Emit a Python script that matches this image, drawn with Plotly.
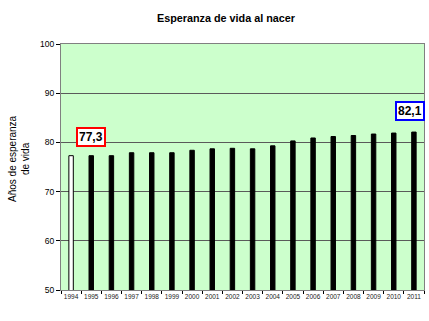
import plotly.graph_objects as go

years = ["1994","1995","1996","1997","1998","1999","2000","2001","2002","2003",
         "2004","2005","2006","2007","2008","2009","2010","2011"]
values = [77.3,77.3,77.3,77.9,77.9,77.9,78.4,78.7,78.8,78.7,
          79.3,80.3,80.9,81.2,81.4,81.7,81.9,82.1]
fill_colors = ["white"] + ["black"] * (len(years) - 1)
y_ticks = [50, 60, 70, 80, 90, 100]

idx = list(range(len(years)))
boundaries = [i - 0.5 for i in range(len(years) + 1)]

fig = go.Figure()
fig.add_trace(go.Bar(
    x=idx, y=values,
    marker=dict(color=fill_colors, line=dict(color="black", width=1)),
    width=0.22,
))

fig.update_layout(
    width=429, height=321,
    margin=dict(l=61, r=5, t=44, b=31),
    paper_bgcolor="white",
    plot_bgcolor="#CCFFCC",
    showlegend=False,
    font=dict(family="Arial, Liberation Sans, sans-serif", color="black"),
    title=dict(text="<b>Esperanza de vida al nacer</b>", x=226/429, xanchor="center",
               y=1-18/321, yanchor="middle", xref="container",
               font=dict(size=10.8)),
)
fig.update_xaxes(
    range=[-0.5, len(years) - 0.5],
    tickvals=idx, ticktext=years, tickangle=0,
    tickfont=dict(size=6.5, color="#222222"),
    ticks="",
    minor=dict(tickvals=boundaries, ticks="outside", ticklen=3, tickcolor="black", showgrid=False),
    showline=True, linecolor="#808080", linewidth=1, mirror=True,
    showgrid=False, zeroline=False,
)
fig.update_yaxes(
    range=[50, 100],
    tickvals=y_ticks,
    tickfont=dict(size=8.5),
    ticks="outside", ticklen=4, tickcolor="black",
    showline=True, linecolor="#808080", linewidth=1, mirror=True,
    showgrid=True, gridcolor="#5a5a5a", gridwidth=1,
    zeroline=False,
)
fig.add_annotation(
    text="Años de esperanza<br>de vida", textangle=-90,
    xref="paper", yref="paper", x=(19-61)/363, y=(290-159)/246,
    showarrow=False, font=dict(size=10), xanchor="center", yanchor="middle",
)
fig.add_annotation(
    text="<b>77,3</b>", x=1, y=81, xref="x", yref="y",
    showarrow=False, font=dict(size=12), bgcolor="white",
    bordercolor="red", borderwidth=2, borderpad=1,
)
fig.add_annotation(
    text="<b>82,1</b>", x=len(years) - 1, y=86.3, xref="x", yref="y", xshift=-4,
    showarrow=False, font=dict(size=12), bgcolor="white",
    bordercolor="blue", borderwidth=2, borderpad=1,
)

fig.write_html("out.html")
